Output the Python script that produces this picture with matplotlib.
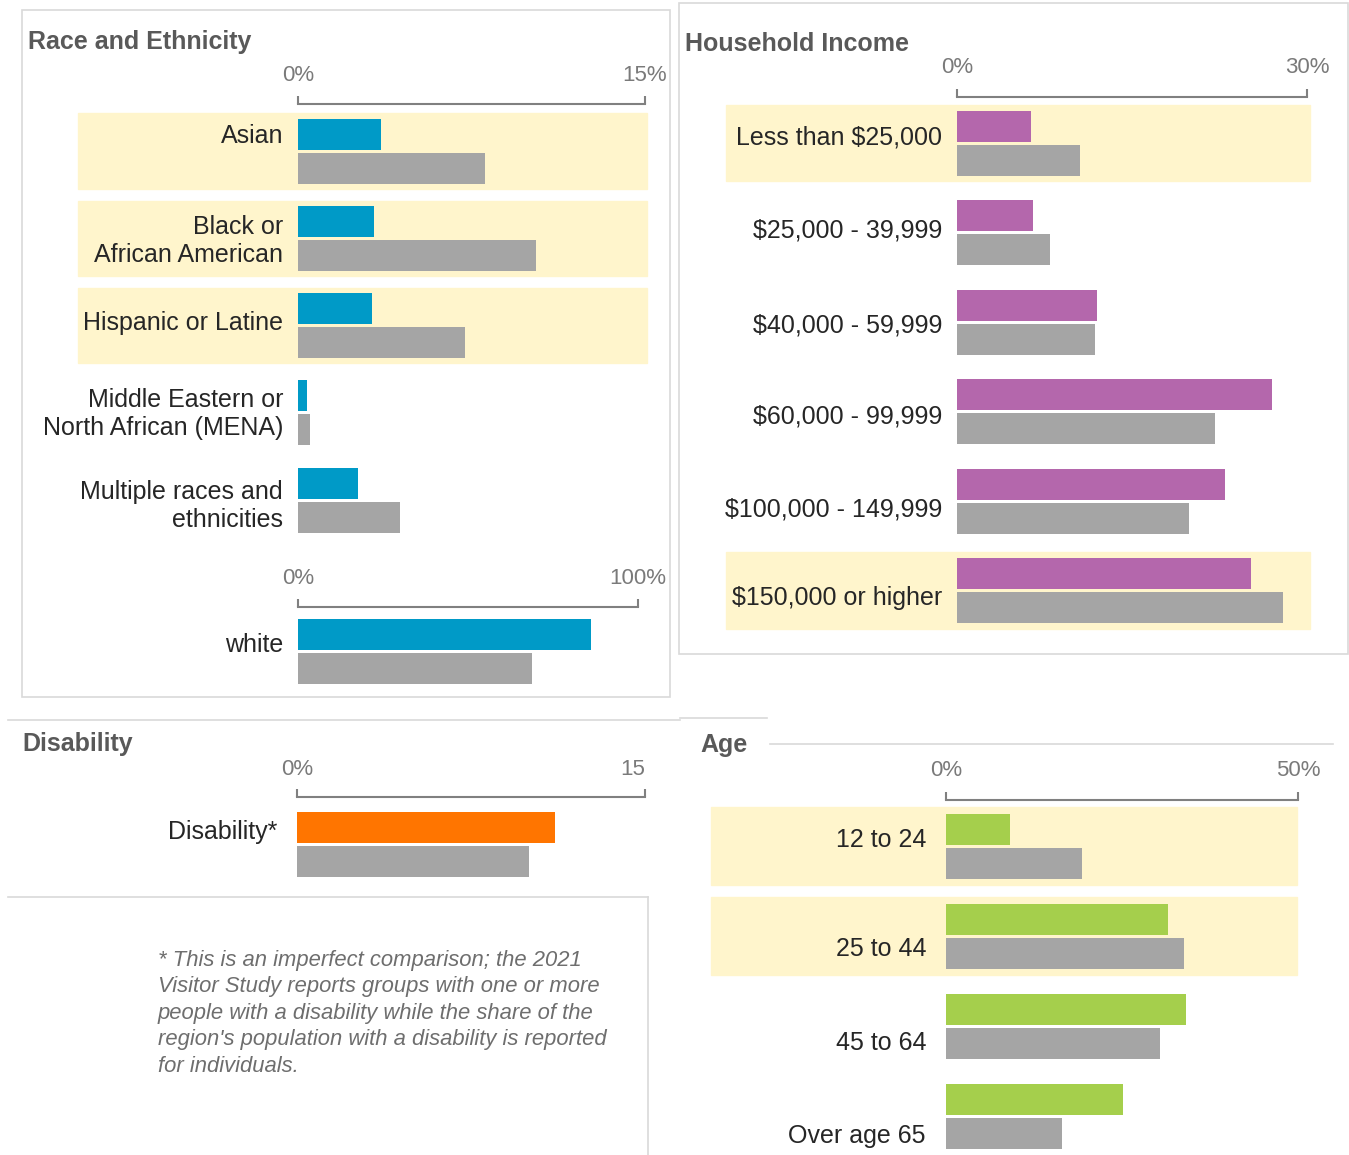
import matplotlib
matplotlib.use("Agg")
import matplotlib.pyplot as plt
from matplotlib.patches import Rectangle
from matplotlib.lines import Line2D

W, H = 1349, 1155

# --- données (en %) ---
race_labels = ["Asian", "Black or\nAfrican American", "Hispanic or Latine",
               "Middle Eastern or\nNorth African (MENA)", "Multiple races and\nethnicities"]
race_visitors = [3.6, 3.3, 3.2, 0.4, 2.6]
race_region = [8.1, 10.3, 7.2, 0.5, 4.4]
race_highlight = [True, True, True, False, False]

white_labels = ["white"]
white_visitors = [86.2]
white_region = [68.8]

income_labels = ["Less than $25,000", "$25,000 - 39,999", "$40,000 - 59,999",
                 "$60,000 - 99,999", "$100,000 - 149,999", "$150,000 or higher"]
income_visitors = [6.3, 6.5, 12.0, 27.0, 23.0, 25.2]
income_region = [10.5, 8.0, 11.8, 22.1, 19.9, 27.9]
income_highlight = [True, False, False, False, False, True]

disability_labels = ["Disability*"]
disability_visitors = [11.1]
disability_region = [10.0]

age_labels = ["12 to 24", "25 to 44", "45 to 64", "Over age 65"]
age_visitors = [9.1, 31.5, 34.1, 25.1]
age_region = [19.3, 33.8, 30.4, 16.5]
age_highlight = [True, True, False, False]

note = ("* This is an imperfect comparison; the 2021\n"
        "Visitor Study reports groups with one or more\n"
        "people with a disability while the share of the\n"
        "region's population with a disability is reported\n"
        "for individuals.")

# --- couleurs ---
BLUE = "#009AC7"
PURPLE = "#B467AC"
ORANGE = "#FF7500"
GREEN = "#A5CF4C"
GRAY = "#A5A5A5"
BAND = "#FFF5CC"
FRAME = "#D9D9D9"

plt.rcParams["font.family"] = ["Liberation Sans", "DejaVu Sans"]

fig = plt.figure(figsize=(W / 100, H / 100), dpi=100)


def px_line(xs, ys, color=FRAME, lw=1.2):
    fig.add_artist(Line2D([x / W for x in xs], [1 - y / H for y in ys],
                          color=color, lw=lw))


def panel(x0, x1, top, c0, step, bottom, xmax, labels, visitors, region, color,
          ticklabels, highlight=None, band=(0, 1), pad=15, tpad=8, shifts=None):
    """Un petit bloc de barres horizontales, positionné en pixels"""
    ax = fig.add_axes([x0 / W, 1 - bottom / H, (x1 - x0) / W, (bottom - top) / H])
    ax.patch.set_alpha(0)
    n = len(labels)
    ys = list(range(n))
    h = 31 / step
    off = 17 / step
    ax.barh([y - off for y in ys], visitors, height=h, color=color, zorder=3)
    ax.barh([y + off for y in ys], region, height=h, color=GRAY, zorder=3)
    if highlight:
        for y, hl in zip(ys, highlight):
            if hl:
                ax.add_patch(Rectangle((band[0], y - 0.43), band[1] - band[0], 0.86,
                                       transform=ax.get_yaxis_transform(),
                                       color=BAND, zorder=0, clip_on=False))
    ax.set_xlim(0, xmax)
    ax.set_ylim((bottom - c0) / step, -(c0 - top) / step)
    for s in ["left", "right", "bottom"]:
        ax.spines[s].set_visible(False)
    ax.spines["top"].set_color("#808080")
    ax.spines["top"].set_linewidth(1.5)
    ax.xaxis.set_ticks_position("top")
    ax.set_xticks([0, xmax])
    ax.set_xticklabels(ticklabels)
    ax.tick_params(axis="x", direction="out", length=6, width=1.5, color="#808080",
                   labelsize=16, labelcolor="#7A7A7A", pad=tpad)
    ax.set_yticks([])
    # étiquettes des catégories (décalage vertical en pixels, comme l'original)
    shifts = shifts or [0] * n
    for y, lab, dy in zip(ys, labels, shifts):
        ax.text(-pad / (x1 - x0), y + dy / step, lab, transform=ax.get_yaxis_transform(),
                ha="right", va="center", fontsize=18, color="#262626", linespacing=1.2)
    return ax


# --- cadres ---
fig.add_artist(Rectangle((22 / W, 1 - 697 / H), (670 - 22) / W, (697 - 10) / H,
                         fill=False, edgecolor=FRAME, lw=1.2))
fig.add_artist(Rectangle((679 / W, 1 - 654 / H), (1348 - 679) / W, (654 - 3) / H,
                         fill=False, edgecolor=FRAME, lw=1.2))
px_line([8, 680], [720, 720])
px_line([680, 767], [718, 718])
px_line([770, 1333], [744, 744])
px_line([8, 648], [897, 897])
px_line([648, 648], [897, 1155])

# --- titres ---
for x, y, t in [(28, 42, "Race and Ethnicity"), (685, 44, "Household Income"),
                (22, 744, "Disability"), (700, 745, "Age")]:
    fig.text(x / W, 1 - y / H, t, fontsize=18, fontweight="bold", color="#595959",
             ha="left", va="center")

# --- panneaux ---
panel(298, 645, 104, 151, 87.3, 545, 15, race_labels, race_visitors, race_region,
      BLUE, ["0%", "15%"], race_highlight, band=(-0.634, 1.006), tpad=7,
      shifts=[-15, 3, -3, 1, 6])
panel(298, 638, 607, 651, 87.3, 690, 100, white_labels, white_visitors, white_region,
      BLUE, ["0%", "100%"], tpad=7, shifts=[-6])
panel(957, 1307, 97, 143, 89.5, 640, 30, income_labels, income_visitors, income_region,
      PURPLE, ["0%", "30%"], income_highlight, band=(-0.66, 1.009),
      shifts=[-5, -2, 3, 5, 9, 7])
ax_d = panel(297, 645, 797, 844.5, 88, 885, 15, disability_labels, disability_visitors,
             disability_region, ORANGE, ["0%", "15"], pad=20, tpad=6, shifts=[-12])
ax_d.get_xticklabels()[1].set_horizontalalignment("right")
panel(946, 1298, 800, 846, 90, 1155, 50, age_labels, age_visitors, age_region,
      GREEN, ["0%", "50%"], age_highlight, band=(-0.668, 0.997), pad=20,
      shifts=[-6, 13, 17, 20])

# --- note ---
fig.text(158 / W, 1 - 950 / H, note, fontsize=15.8, style="italic", color="#6E6E6E",
         ha="left", va="top", linespacing=1.34)

fig.savefig("out.png", dpi=100)
